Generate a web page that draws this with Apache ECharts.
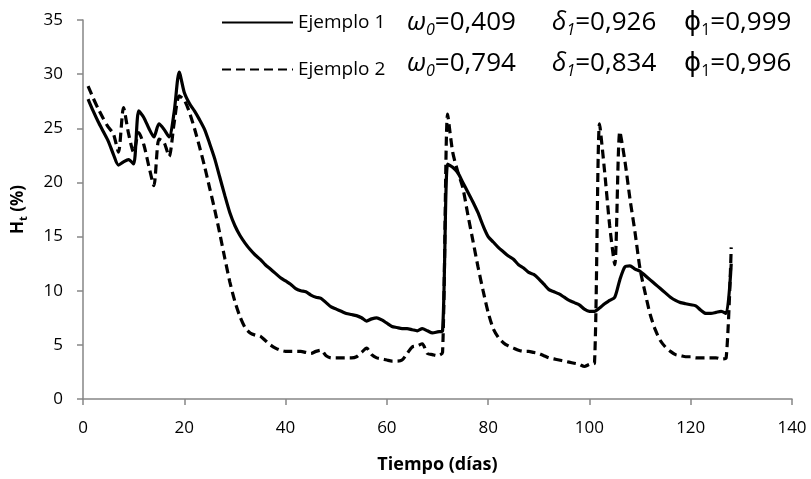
<!DOCTYPE html>
<html>
<head>
<meta charset="utf-8">
<script src="https://cdn.jsdelivr.net/npm/echarts@6/dist/echarts.min.js"></script>
<style>
  html, body { margin: 0; padding: 0; background: #fff; }
  #chart { width: 811px; height: 479px; }
</style>
</head>
<body>
<div id="chart"></div>
<script>
// Días de muestreo
const dias = [
  1, 2, 3, 4, 5, 6, 7, 8, 9, 10, 11, 12, 13, 14, 15, 16, 17, 18, 19, 20,
  21, 22, 23, 24, 25, 26, 27, 28, 29, 30, 31, 32, 33, 34, 35, 36, 37, 38, 39, 40,
  41, 42, 43, 44, 45, 46, 47, 48, 49, 50, 51, 52, 53, 54, 55, 56, 57, 58, 59, 60,
  61, 62, 63, 64, 65, 66, 67, 68, 69, 70, 71, 72, 73, 74, 75, 76, 77, 78, 79, 80,
  81, 82, 83, 84, 85, 86, 87, 88, 89, 90, 91, 92, 93, 94, 95, 96, 97, 98, 99, 100,
  101, 102, 103, 104, 105, 106, 107, 108, 109, 110, 111, 112, 113, 114, 115, 116, 117, 118, 119, 120,
  121, 122, 123, 124, 125, 126, 127, 128
];

// Humedad H_t (%) - Ejemplo 1
const ejemplo1 = [
  27.7, 26.6, 25.6, 24.7, 23.8, 22.6, 21.6, 21.9, 22.1, 21.7,
  26.6, 26.0, 25.0, 24.2, 25.4, 24.9, 24.2, 26.5, 30.2, 28.3,
  27.3, 26.6, 25.8, 24.9, 23.6, 22.2, 20.5, 18.8, 17.2, 16.0,
  15.1, 14.4, 13.8, 13.3, 12.9, 12.4, 12.0, 11.6, 11.2, 10.9,
  10.6, 10.2, 10.0, 9.9, 9.6, 9.4, 9.3, 8.9, 8.5, 8.3,
  8.1, 7.9, 7.8, 7.7, 7.5, 7.2, 7.4, 7.5, 7.3, 7.0,
  6.7, 6.6, 6.5, 6.5, 6.4, 6.3, 6.5, 6.3, 6.1, 6.2,
  6.3, 21.7, 21.4, 20.9, 20.0, 19.1, 18.2, 17.2, 16.0, 15.0,
  14.5, 14.0, 13.6, 13.2, 12.9, 12.4, 12.1, 11.7, 11.5, 11.1,
  10.6, 10.1, 9.9, 9.7, 9.4, 9.1, 8.9, 8.7, 8.3, 8.1,
  8.1, 8.4, 8.8, 9.1, 9.4, 11.0, 12.2, 12.3, 12.0, 11.8,
  11.4, 11.0, 10.6, 10.2, 9.8, 9.4, 9.1, 8.9, 8.8, 8.7,
  8.6, 8.2, 7.9, 7.9, 8.0, 8.1, 7.9, 12.5
];

// Humedad H_t (%) - Ejemplo 2
const ejemplo2 = [
  28.9, 27.8, 26.8, 25.9, 25.1, 24.5, 22.8, 26.9, 24.5, 22.8,
  24.6, 23.5, 21.5, 19.7, 24.0, 23.7, 22.4, 25.5, 28.0, 27.6,
  26.5, 25.0, 23.3, 21.5, 19.5, 17.5, 15.3, 13.0, 10.8, 9.0,
  7.6, 6.6, 6.1, 5.9, 5.8, 5.4, 5.0, 4.7, 4.5, 4.4,
  4.4, 4.4, 4.4, 4.3, 4.2, 4.4, 4.5, 4.0, 3.8, 3.8,
  3.8, 3.8, 3.8, 3.9, 4.3, 4.7, 4.1, 3.8, 3.7, 3.6,
  3.5, 3.5, 3.6, 4.2, 4.8, 4.9, 5.1, 4.2, 4.1, 4.0,
  4.3, 26.3, 22.8, 21.0, 19.5, 17.0, 14.6, 12.2, 10.0, 8.0,
  6.5, 5.7, 5.2, 4.9, 4.7, 4.5, 4.4, 4.4, 4.3, 4.2,
  4.0, 3.8, 3.7, 3.6, 3.5, 3.4, 3.3, 3.2, 3.0, 3.2,
  3.3, 25.4, 21.0, 16.0, 12.4, 24.7, 22.0, 18.5, 15.4, 12.0,
  9.8, 7.8, 6.4, 5.4, 4.8, 4.4, 4.1, 4.0, 3.9, 3.9,
  3.8, 3.8, 3.8, 3.8, 3.8, 3.7, 3.8, 14.0
];

const nombres = ['Ejemplo 1', 'Ejemplo 2'];

// Parámetros ajustados de cada ejemplo
const omega0 = ['0,409', '0,794'];
const delta1 = ['0,926', '0,834'];
const phi1 = ['0,999', '0,996'];

const FONT = '"Open Sans", "DejaVu Sans", sans-serif';
const AXIS_GRAY = '#868686';

const pares = (vals) => dias.map((d, i) => [d, vals[i]]);

// Textos de parámetros con subíndices
const richParam = {
  g: { fontFamily: FONT, fontSize: 26, fontStyle: 'italic', color: '#000' },
  gu: { fontFamily: FONT, fontSize: 26, color: '#000' },
  s: { fontFamily: FONT, fontSize: 16, fontStyle: 'italic', color: '#000', padding: [15, 0, 0, 0] },
  su: { fontFamily: FONT, fontSize: 16, color: '#000', padding: [15, 0, 0, 0] },
  n: { fontFamily: FONT, fontSize: 26, color: '#000' }
};

const filasY = [27, 68];
const graficos = [];
filasY.forEach((y, i) => {
  graficos.push({
    type: 'text', left: 407, top: y - 17,
    style: { text: '{g|ω}{s|0}{n|=' + omega0[i] + '}', rich: richParam }
  });
  graficos.push({
    type: 'text', left: 552, top: y - 17,
    style: { text: '{g|δ}{s|1}{n|=' + delta1[i] + '}', rich: richParam }
  });
  graficos.push({
    type: 'text', left: 684, top: y - 17,
    style: { text: '{gu|ϕ}{su|1}{n|=' + phi1[i] + '}', rich: richParam }
  });
});

const chart = echarts.init(document.getElementById('chart'), null, { renderer: 'canvas' });

chart.setOption({
  animation: false,
  backgroundColor: '#fff',
  grid: { left: 83, right: 19, top: 20, bottom: 78, containLabel: false },
  legend: {
    orient: 'vertical',
    left: 216,
    top: 8,
    itemWidth: 71,
    itemHeight: 16,
    itemGap: 28,
    data: nombres,
    itemStyle: { opacity: 0 },
    textStyle: { fontFamily: FONT, fontSize: 19, color: '#000' }
  },
  xAxis: {
    type: 'value',
    min: 0,
    max: 140,
    interval: 20,
    name: 'Tiempo (días)',
    nameLocation: 'middle',
    nameGap: 57,
    nameTextStyle: { fontFamily: FONT, fontSize: 18, fontWeight: 'bold', color: '#000' },
    axisLine: { show: true, lineStyle: { color: AXIS_GRAY, width: 1.5 } },
    axisTick: { show: true, length: 6, lineStyle: { color: AXIS_GRAY, width: 1.5 } },
    axisLabel: { margin: 21, fontFamily: FONT, fontSize: 17, color: '#000' },
    splitLine: { show: false }
  },
  yAxis: {
    type: 'value',
    min: 0,
    max: 35,
    interval: 5,
    name: '{b|H}{s|t}{b| (%)}',
    nameLocation: 'middle',
    nameRotate: 90,
    nameGap: 54,
    nameTextStyle: {
      rich: {
        b: { fontFamily: FONT, fontSize: 17, fontWeight: 'bold', color: '#000' },
        s: { fontFamily: FONT, fontSize: 11, fontWeight: 'bold', color: '#000', padding: [10, 0, 0, 0] }
      }
    },
    axisLine: { show: true, lineStyle: { color: AXIS_GRAY, width: 1.5 } },
    axisTick: { show: true, length: 6, lineStyle: { color: AXIS_GRAY, width: 1.5 } },
    axisLabel: { margin: 20, fontFamily: FONT, fontSize: 17, color: '#000' },
    splitLine: { show: false }
  },
  series: [
    {
      name: nombres[0],
      type: 'line',
      data: pares(ejemplo1),
      symbol: 'none',
      smooth: 0.25,
      lineStyle: { color: '#000', width: 3.2 },
      itemStyle: { color: '#000' },
      z: 3
    },
    {
      name: nombres[1],
      type: 'line',
      data: pares(ejemplo2),
      symbol: 'none',
      smooth: 0.25,
      lineStyle: { color: '#000', width: 3.2, type: [9, 5] },
      itemStyle: { color: '#000' },
      z: 2
    }
  ],
  graphic: graficos
});
</script>
</body>
</html>
